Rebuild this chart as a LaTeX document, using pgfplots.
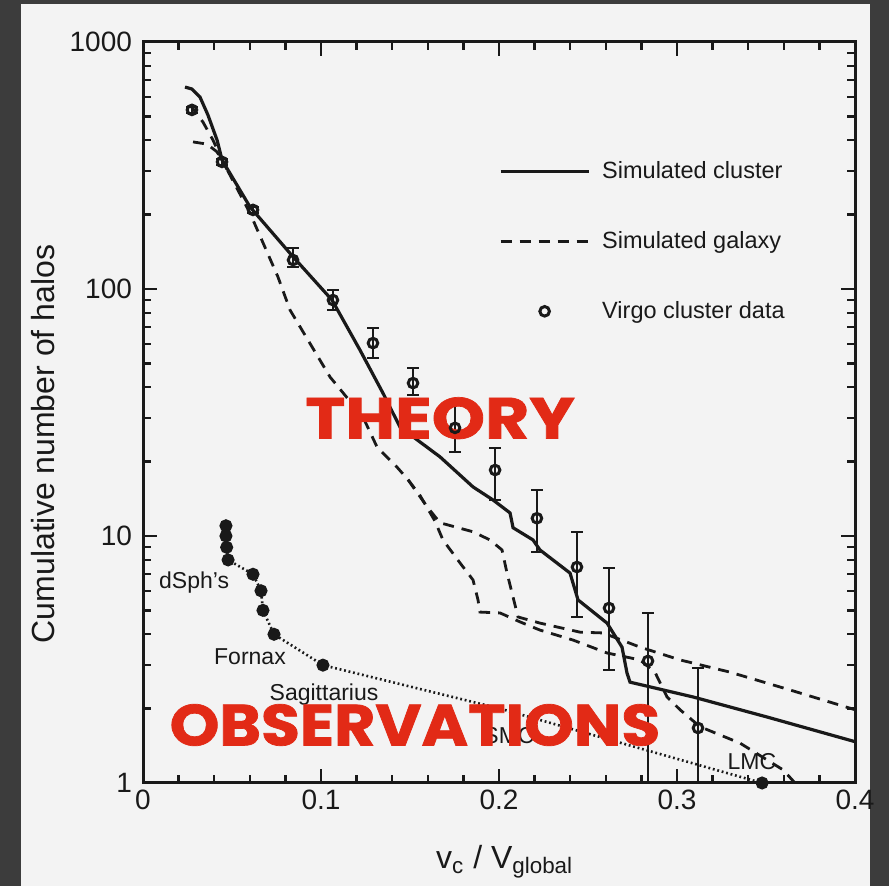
\documentclass[border=0pt]{standalone}
\usepackage{fontspec}
\setmainfont{Liberation Sans}
\newfontfamily\redfont{Poppins}[BoldFeatures={FakeBold=1.2}]
\usepackage{pgfplots}
\pgfplotsset{compat=1.18}
\usepackage{pgfplotstable}
\definecolor{pagebg}{RGB}{243,243,243}
\definecolor{darkbg}{RGB}{60,60,60}
\definecolor{redtxt}{RGB}{226,42,22}
\definecolor{ink}{RGB}{25,25,25}

\pgfplotstableread{
x y ep em
0.0275 531 15 15
0.0444 327 10 10
0.0618 209 6 6
0.0843 131 15.6 8.3
0.1067 90.2 8.9 8.0
0.1292 60.4 9.1 7.8
0.1517 41.6 6.3 4.4
0.1753 27.4 6.5 5.5
0.1978 18.5 4.2 4.5
0.2213 11.8 3.6 3.19
0.2438 7.49 2.91 2.79
0.2618 5.11 2.31 2.24
0.2837 3.12 1.76 2.62
0.3118 1.67 1.25 1.17
}\virgo

\begin{document}
\begin{tikzpicture}
\path[use as bounding box] (0,0) rectangle (444.5pt,443pt);
\fill[darkbg] (0,0) rectangle (444.5pt,443pt);
\fill[pagebg] (10.5pt,0) rectangle (435pt,441pt);
\begin{axis}[
  at={(71.5pt,51.5pt)}, anchor=south west,
  width=356pt, height=370.5pt, scale only axis,
  xmin=0, xmax=0.4, ymin=1, ymax=1000, ymode=log,
  axis line style={ink, line width=1.5pt},
  every tick/.style={ink, line width=1.2pt},
  major tick length=7pt, minor tick length=4pt,
  tick align=inside,
  xtick={0,0.1,0.2,0.3,0.4}, xticklabels={0,0.1,0.2,0.3,0.4},
  minor x tick num=4,
  ytick={1,10,100,1000}, yticklabels={1,10,100,1000},
  minor ytick={2,3,...,9,20,30,...,90,200,300,...,900},
  ticklabel style={font=\fontsize{14}{16}\selectfont, text=ink},
  yticklabel style={xshift=-2pt},
  xlabel={v\textsubscript{c} / V\textsubscript{global}},
  ylabel={Cumulative number of halos},
  label style={font=\fontsize{16}{18}\selectfont, text=ink},
  xlabel style={at={(axis description cs:0.508,-0.1066)}, anchor=center},
  ylabel style={at={(axis description cs:-0.1404,0.4575)}, anchor=center},
  legend style={at={(axis description cs:0.4995,0.845)}, anchor=north west,
    draw=none, fill=none, font=\fontsize{11.75}{14}\selectfont, row sep=21pt,
    inner sep=0pt, text=ink, /tikz/every odd column/.append style={column sep=4pt}},
  legend cell align=left,
  legend image code/.code={\draw[mark repeat=2,mark phase=2,#1] plot coordinates {(0pt,0pt) (22pt,0pt) (44pt,0pt)};},
]
% simulated cluster
\addplot[ink, line width=1.6pt] coordinates {
(0.0236,657) (0.0275,645) (0.032,599) (0.0365,506) (0.0416,401) (0.0444,333)
(0.0601,215) (0.0843,135) (0.1062,90.2) (0.1219,56.6) (0.1348,37.9) (0.1444,27.6)
(0.1669,20.9) (0.1854,15.8) (0.1966,14.0) (0.2062,12.4) (0.2079,10.8) (0.2191,9.64)
(0.2230,8.78) (0.2399,7.08) (0.2444,5.51) (0.2607,4.44) (0.2691,3.55) (0.2719,2.79)
(0.2736,2.56) (0.3090,2.23) (0.3506,1.85) (0.4,1.47)};
\addlegendentry{Simulated cluster}
% simulated galaxy A (with the shared branch)
\addplot[ink, line width=1.4pt, dash pattern=on 5.5pt off 4pt] coordinates {
(0.0264,556) (0.0337,474) (0.0393,401) (0.0444,333) (0.0601,203) (0.0758,112)
(0.0826,82.2) (0.1051,44.0) (0.1236,30.3) (0.1315,22.9) (0.1427,19.0) (0.1489,16.9)
(0.1528,15.4) (0.1601,13.0) (0.1669,11.3) (0.1710,11.1) (0.1854,10.4) (0.1949,9.64)
(0.2017,8.78) (0.2045,7.08) (0.2107,4.70) (0.2230,4.44) (0.2455,4.08) (0.2584,4.05)
(0.2792,3.55) (0.3017,3.15) (0.3298,2.81) (0.3635,2.38) (0.4,1.98)};
\addlegendentry{Simulated galaxy}
% simulated galaxy B: start, joining the shared branch
\addplot[ink, line width=1.4pt, dash pattern=on 5.5pt off 4pt, forget plot] coordinates {
(0.0281,394) (0.036,386) (0.0416,359) (0.0472,305)};
% simulated galaxy B: after leaving the shared branch
\addplot[ink, line width=1.4pt, dash pattern=on 5.5pt off 4pt, forget plot] coordinates {
(0.1489,16.9) (0.1556,14.6) (0.1640,11.5) (0.1685,9.64) (0.1781,7.78) (0.1854,6.64) (0.1882,5.51)
(0.1893,4.92) (0.2006,4.88) (0.2118,4.49) (0.2230,4.16) (0.2416,3.79) (0.2607,3.36)
(0.2792,3.15) (0.2876,2.81) (0.2944,2.23) (0.3017,1.98) (0.3129,1.69) (0.3354,1.45)
(0.3506,1.24) (0.3596,1.13) (0.3663,1)};
% Virgo cluster data
\addplot[ink, only marks, mark=o, mark size=2.4pt, line width=1.5pt,
  error bars/.cd, y dir=both, y explicit, error mark=-,
  error bar style={ink, line width=1.1pt},
  error mark options={ink, rotate=90, mark size=2.8pt, line width=1.1pt}]
  table[x=x, y=y, y error plus=ep, y error minus=em] {\virgo};
\addlegendentry{Virgo cluster data}
% Local group observations
\addplot[ink, line width=1.3pt, dash pattern=on 0.9pt off 1.4pt, mark=*, mark size=2.6pt,
  mark options={solid, fill=ink}, mark indices={1,2,3,4,5,6,7,8,9,11}, forget plot] coordinates {
(0.0466,11) (0.0466,10) (0.0470,9) (0.0478,8) (0.0618,7) (0.0663,6) (0.0674,5)
(0.0736,4) (0.1011,3) (0.2006,2) (0.3478,1)};
\begin{scope}[font=\fontsize{11.5}{13}\selectfont, text=ink]
\node at (axis cs:0.0287,6.5) {dSph's};
\node at (axis cs:0.0601,3.24) {Fornax};
\node at (axis cs:0.1017,2.27) {Sagittarius};
\node at (axis cs:0.2056,1.56) {SMC};
\node at (axis cs:0.3421,1.22) {LMC};
\end{scope}
\node[text=redtxt, font=\redfont\bfseries\fontsize{29}{30}\selectfont, inner sep=0pt] at (axis cs:0.1669,30.0) {\scalebox{1.17}[1]{THEORY}};
\node[text=redtxt, font=\redfont\bfseries\fontsize{29}{30}\selectfont, inner sep=0pt] at (axis cs:0.1528,1.717) {\scalebox{1.09}[1]{OBSERVATIONS}};
\end{axis}
\end{tikzpicture}
\end{document}
